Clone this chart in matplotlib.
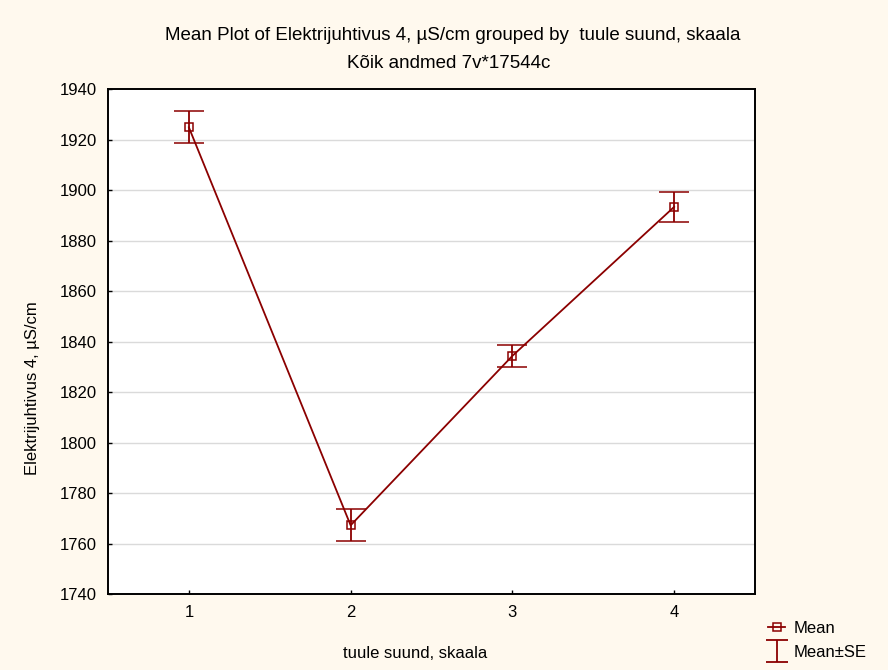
import numpy as np
import matplotlib
matplotlib.use("Agg")
import matplotlib.pyplot as plt
from matplotlib.lines import Line2D
from matplotlib.path import Path

plt.rcParams['font.family'] = ['Liberation Sans', 'DejaVu Sans']

# data
groups = [1, 2, 3, 4]
means = [1924.8, 1767.2, 1834.3, 1893.3]
se = [6.3, 6.3, 4.3, 5.9]
yticks = np.arange(1740, 1941, 20)

red = '#8B0000'
bg = '#FFF9EE'

fig = plt.figure(figsize=(8.88, 6.7), dpi=100, facecolor=bg)
ax = fig.add_axes([108/888, 1 - 594/670, (755-108)/888, (594-89)/670])
ax.set_facecolor('white')

ax.errorbar(groups, means, yerr=se, color=red, lw=1.3, elinewidth=1.3,
            capsize=11, capthick=1.3, marker='s', ms=6, mfc='none',
            mec=red, mew=1.1, zorder=3)

ax.set_xlim(0.5, 4.5)
ax.set_ylim(1740, 1940)
ax.set_xticks(groups)
ax.set_yticks(yticks)
for y in yticks[1:-1]:
    ax.axhline(y, color='#DADADA', lw=1, zorder=0)
ax.tick_params(direction='in', length=3, width=1, labelsize=12, pad=8)
for s in ax.spines.values():
    s.set_linewidth(1.4)

fig.text(0.51, 1 - 35/670, 'Mean Plot of Elektrijuhtivus 4, µS/cm grouped by  tuule suund, skaala',
         ha='center', va='center', fontsize=13.5)
fig.text(0.505, 1 - 63/670, 'Kõik andmed 7v*17544c',
         ha='center', va='center', fontsize=13.5)
fig.text(415/888, 1 - 654/670, 'tuule suund, skaala', ha='center', va='center',
         fontsize=12)
fig.text(32/888, 1 - 388/670, 'Elektrijuhtivus 4, µS/cm', ha='center', va='center',
         rotation=90, fontsize=12)

# legend symbols
ibeam = Path([(-1, 1), (1, 1), (0, 1), (0, -1), (-1, -1), (1, -1)],
             [Path.MOVETO, Path.LINETO, Path.MOVETO, Path.LINETO, Path.MOVETO, Path.LINETO])
h_mean = Line2D([], [], color=red, lw=1.3, marker='s', ms=6, mfc='none', mec=red, mew=1.1)
h_se = Line2D([], [], ls='none', marker=ibeam, ms=16, mec=red, mew=1.3)
fig.legend([h_mean, h_se], ['Mean', 'Mean±SE'], loc='upper left',
           bbox_to_anchor=(760/888, 1 - 613/670), frameon=False, fontsize=12,
           handlelength=1.0, handletextpad=0.5, labelspacing=0.5, borderpad=0)

fig.savefig('out.png', dpi=100, facecolor=bg)
